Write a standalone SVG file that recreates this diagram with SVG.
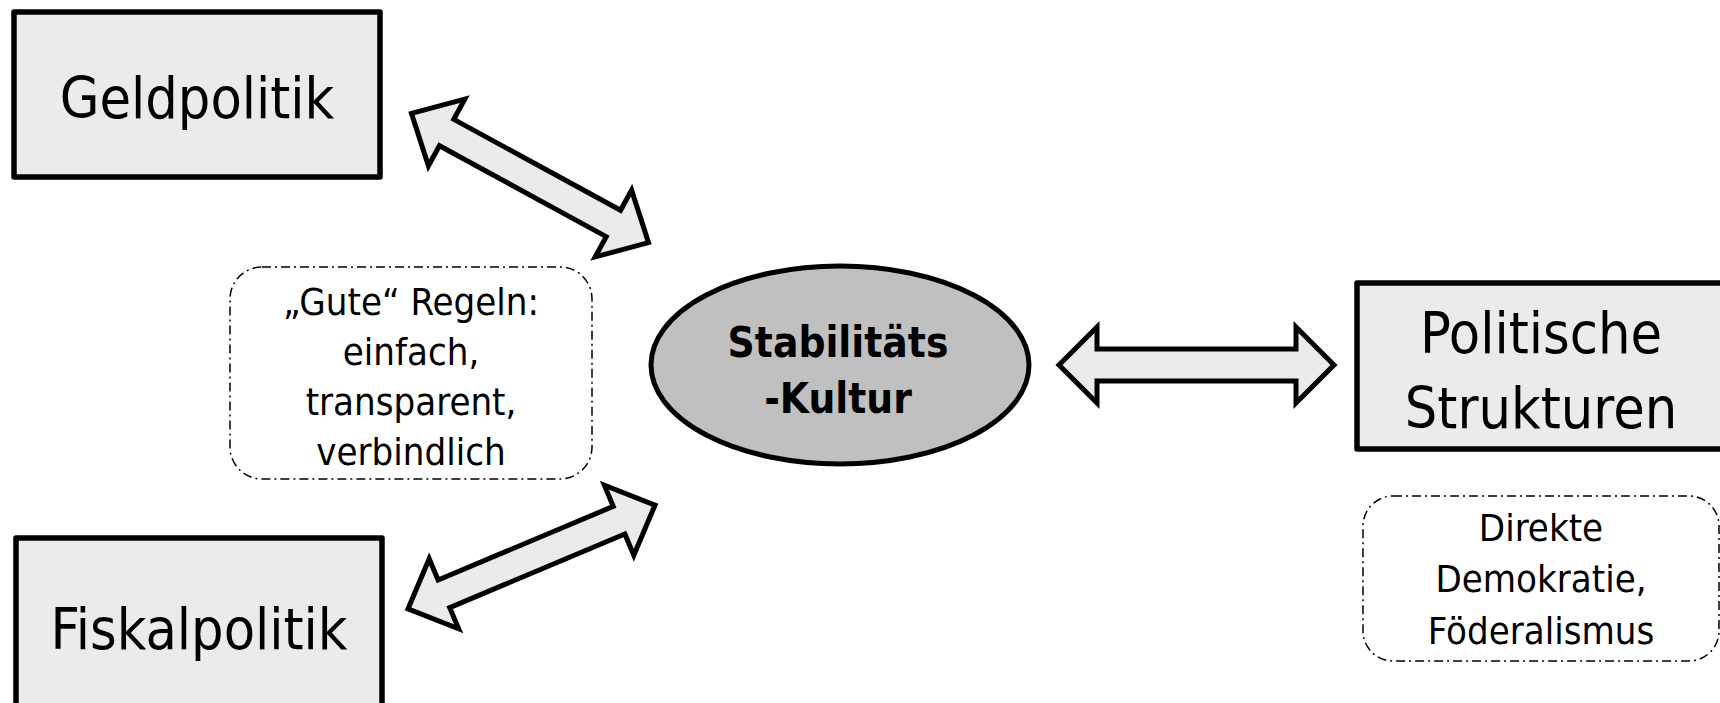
<svg xmlns="http://www.w3.org/2000/svg" width="1720" height="703" viewBox="0 0 1720 703">
<style>
.box{fill:#ebebeb;stroke:#000;stroke-width:5.5;stroke-linejoin:round}
.note{fill:none;stroke:#000;stroke-width:1.5;stroke-dasharray:9 4 2 4}
.arr{fill:#ebebeb;stroke:#000;stroke-width:5;stroke-linejoin:miter}
text{font-family:"Liberation Sans Narrow","DejaVu Sans Condensed","Liberation Sans",sans-serif;fill:#000;text-anchor:middle}
.big{font-size:57px}
.mid{font-size:38px}
.bold{font-size:42px;font-weight:bold}
</style>
<rect width="1720" height="703" fill="#fff"/>
<g id="connectors">
<g transform="translate(530,178) rotate(28.6)">
<polygon class="arr" points="-135,0 -95,-38 -95,-15 95,-15 95,-38 135,0 95,38 95,15 -95,15 -95,38"/>
</g>
<g transform="translate(531.5,557) rotate(-22.8)">
<polygon class="arr" points="-134,0 -95,-38 -95,-15 95,-15 95,-38 134,0 95,38 95,15 -95,15 -95,38"/>
</g>
<polygon class="arr" points="1059,365 1097,327 1097,349 1296,349 1296,327 1334,365 1296,403 1296,381 1097,381 1097,403"/>
</g>
<g id="geldpolitik">
<rect class="box" x="14" y="12" width="366" height="165"/>
<text class="big" x="197" y="118">Geldpolitik</text>
</g>
<g id="fiskalpolitik">
<rect class="box" x="16" y="538" width="366" height="180"/>
<text class="big" x="199" y="649">Fiskalpolitik</text>
</g>
<g id="politische">
<rect class="box" x="1357" y="283" width="380" height="166"/>
<text class="big" x="1541" y="353">Politische</text>
<text class="big" x="1541" y="428">Strukturen</text>
</g>
<g id="stabilitaet">
<ellipse cx="840" cy="365" rx="189" ry="99" fill="#c0c0c0" stroke="#000" stroke-width="5"/>
<text class="bold" x="838" y="357">Stabilitäts</text>
<text class="bold" x="838" y="413">-Kultur</text>
</g>
<g id="regeln">
<rect class="note" x="230" y="267" width="362" height="212" rx="32"/>
<text class="mid" x="411" y="315">„Gute“ Regeln:</text>
<text class="mid" x="411" y="365">einfach,</text>
<text class="mid" x="411" y="415">transparent,</text>
<text class="mid" x="411" y="465">verbindlich</text>
</g>
<g id="strukturen-note">
<rect class="note" x="1363" y="496" width="356" height="165" rx="30"/>
<text class="mid" x="1541" y="541">Direkte</text>
<text class="mid" x="1541" y="592">Demokratie,</text>
<text class="mid" x="1541" y="644">Föderalismus</text>
</g>
</svg>
